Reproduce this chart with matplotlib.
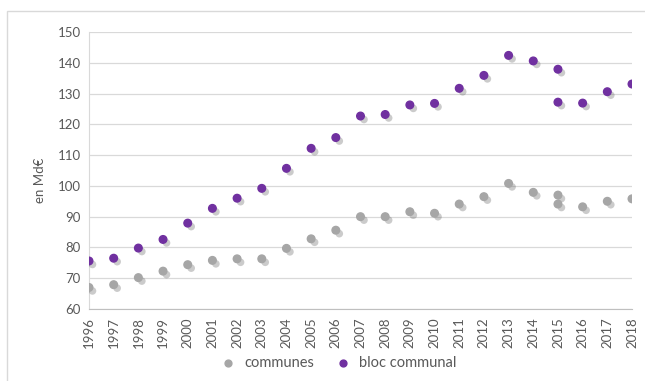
import matplotlib.pyplot as plt
import matplotlib.patheffects as pe
from matplotlib.patches import Rectangle

# data ----------------------------------
years = [1996, 1997, 1998, 1999, 2000, 2001, 2002, 2003, 2004, 2005, 2006, 2007,
         2008, 2009, 2010, 2011, 2012, 2013, 2014, 2015, 2015, 2016, 2017, 2018]
communes = [67.0, 67.9, 70.2, 72.3, 74.4, 75.8, 76.3, 76.3, 79.7, 82.8, 85.6, 90.0,
            90.0, 91.6, 91.1, 94.1, 96.5, 100.8, 97.9, 97.0, 94.1, 93.2, 95.0, 95.8]
bloc = [75.6, 76.5, 79.8, 82.6, 87.9, 92.7, 96.0, 99.2, 105.7, 112.2, 115.7, 122.7,
        123.2, 126.3, 126.8, 131.7, 135.9, 142.4, 140.6, 137.9, 127.2, 126.9, 130.6, 133.1]
tick_years = list(range(1996, 2019))

plt.rcParams['font.family'] = ['Lato', 'DejaVu Sans']

fig = plt.figure(figsize=(6.45, 3.81), dpi=100)
ax = fig.add_axes([89 / 645, 72 / 381, 543 / 645, 277 / 381])

# chart border (cut off on the right and bottom, like the screenshot)
fig.patches.append(Rectangle((7 / 645, -0.1), 1.1, (381 - 11) / 381 + 0.1,
                             transform=fig.transFigure, fill=False,
                             edgecolor='#d9d9d9', linewidth=1))

shadow = [pe.SimplePatchShadow(offset=(2.5, -2.5), shadow_rgbFace='#555555', alpha=0.3),
          pe.Normal()]
ax.scatter(years, communes, s=30, color='#a6a6a6', label='communes',
           path_effects=shadow, zorder=3)
ax.scatter(years, bloc, s=30, color='#7030a0', label='bloc communal',
           path_effects=shadow, zorder=3)

ax.set_xlim(1996, 2018)
ax.set_ylim(60, 150)
ax.set_yticks(range(60, 151, 10))
ax.set_xticks(tick_years)
ax.set_xticklabels([str(y) for y in tick_years], rotation=90)
ax.tick_params(axis='both', length=0, colors='#595959', labelsize=9.5)
ax.tick_params(axis='y', pad=6)
ax.tick_params(axis='x', pad=6)

ax.grid(axis='y', color='#d9d9d9', linewidth=0.9)
ax.set_axisbelow(True)
for s in ['top', 'right']:
    ax.spines[s].set_visible(False)
ax.spines['left'].set_color('#d9d9d9')
ax.spines['bottom'].set_color('#bfbfbf')

fig.text(40 / 645, 1 - 180 / 381, 'en Md€', rotation=90, ha='center', va='center',
         color='#595959', fontsize=9.5)

leg = fig.legend(loc='center', bbox_to_anchor=(335 / 645, 1 - 363 / 381), ncol=2,
                 frameon=False, fontsize=10.5, labelcolor='#595959', handletextpad=0.1,
                 columnspacing=1.0, markerscale=0.9)
for h in leg.legend_handles:
    h.set_path_effects([])

plt.savefig('out.png', dpi=100)
